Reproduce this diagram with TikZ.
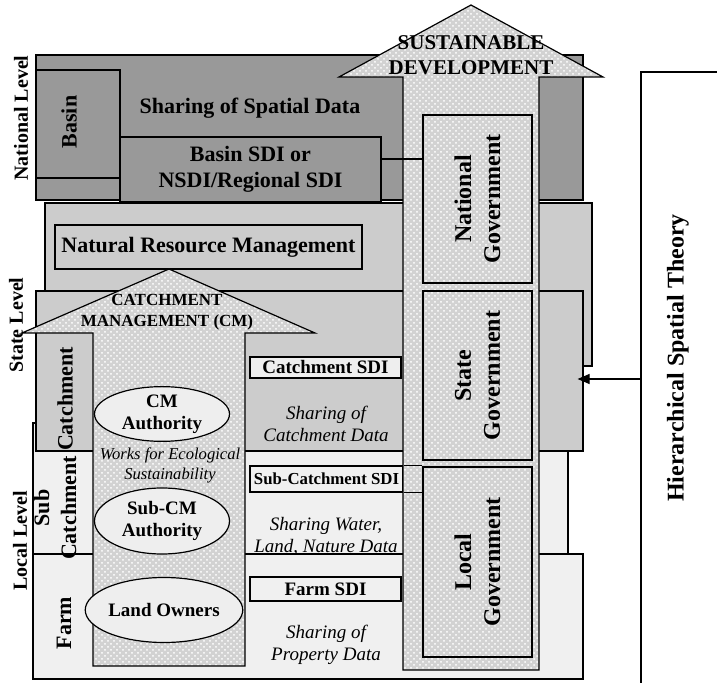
\documentclass[tikz,border=0pt]{standalone}
\usepackage{fontspec}
\setmainfont{Liberation Serif}
\usetikzlibrary{shapes.geometric, arrows.meta, patterns}

\definecolor{natgray}{HTML}{999999}
\definecolor{stgray}{HTML}{CCCCCC}
\definecolor{locgray}{HTML}{F0F0F0}
\definecolor{arrgray}{HTML}{D2D2D2}
\definecolor{ellgray}{HTML}{EEEEEE}

\tikzset{
	layer/.style={draw, fill=#1},
	arrowfill/.style={draw, preaction={fill=arrgray}, pattern=crosshatch dots, pattern color=white},
	govbox/.style={arrowfill, rotate=90, inner sep=0pt, align=center, font=\fontsize{12}{14.5}\selectfont\bfseries},
	sdibox/.style={draw, fill=locgray, inner sep=0pt, font=\fontsize{9.5}{11}\selectfont\bfseries},
	ownerell/.style={draw, ellipse, fill=ellgray, inner sep=0pt, align=center, font=\fontsize{9.5}{11}\selectfont\bfseries},
	lvltext/.style={rotate=90, font=\fontsize{10}{12}\selectfont\bfseries},
	coltext/.style={rotate=90, align=center, font=\fontsize{11}{13.5}\selectfont\bfseries},
	sharetext/.style={align=center, font=\fontsize{9.5}{11}\selectfont\itshape},
}

\begin{document}
\begin{tikzpicture}[x=0.5pt, y=-0.5pt, line width=0.6pt]
		\useasboundingbox (0,0) rectangle (717,683);
		% National level
		\draw[layer=natgray] (36,55) rectangle (583,200);
		\draw[layer=natgray] (36,70) rectangle (120,178);
		\node[draw, fill=natgray, inner sep=0pt, minimum width=130.5pt, minimum height=32.5pt, align=center, font=\fontsize{11}{13}\selectfont\bfseries] (bsdi) at (250.5,169.5) {Basin SDI or\\NSDI/Regional SDI};
		\node[font=\fontsize{11}{13}\selectfont\bfseries] (ssd) at (250,108) {Sharing of Spatial Data};
		\node[coltext] (basin) at (69,122) {Basin};
		
		% Natural resource management level
		\draw[layer=stgray] (45,203) rectangle (592,366);
		\node[draw, fill=stgray, inner sep=0pt, minimum width=153.5pt, minimum height=22pt, font=\fontsize{11}{13}\selectfont\bfseries] (nrm) at (208.5,247) {Natural Resource Management};
		
		% State and local levels
		\draw[layer=locgray] (33,423) rectangle (568,554);
		\node[layer=stgray, inner sep=0pt, minimum width=273.5pt, minimum height=80pt] (state) at (309.5,371) {};
		\draw[layer=locgray] (33,554) rectangle (583,679);
		
		% Catchment management arrow
		\draw[arrowfill] (93,666) -- (93,333) -- (22,333) -- (169,269) -- (315,333) -- (245,333) -- (245,666) -- cycle;
		\node[align=center, font=\fontsize{8.5}{10.5}\selectfont\bfseries] (cmhead) at (167,312) {CATCHMENT\\MANAGEMENT (CM)};
		\node[ownerell, minimum width=67.5pt, minimum height=26pt] (cma) at (162,414) {CM\\Authority};
		\node[sharetext, font=\fontsize{8.3}{10}\selectfont\itshape] (eco) at (170,465) {Works for Ecological\\Sustainability};
		\node[ownerell, minimum width=67.5pt, minimum height=33pt] (subcma) at (162,521) {Sub-CM\\Authority};
		\node[ownerell, minimum width=65pt, minimum height=32.5pt] (owners) at (164,610) {Land Owners};
		
		% Column labels
		\node[coltext] (catch) at (65,399) {Catchment};
		\node[coltext] (subcatch) at (55,508) {Sub\\Catchment};
		\node[coltext] (farm) at (64,623) {Farm};
		
		% SDI boxes and data sharing
		\node[sdibox, fill=ellgray, minimum width=75.5pt, minimum height=10.5pt] (csdi) at (325.5,367.5) {Catchment SDI};
		\node[sharetext] (cdata) at (326,424) {Sharing of\\Catchment Data};
		\node[sdibox, minimum width=76.5pt, minimum height=13pt, font=\fontsize{8.4}{10}\selectfont\bfseries] (scsdi) at (326.5,479) {Sub-Catchment SDI};
		\node[sharetext] (wdata) at (326,536) {Sharing Water,\\Land, Nature Data};
		\node[sdibox, minimum width=75.5pt, minimum height=12pt] (fsdi) at (325.5,589) {Farm SDI};
		\node[sharetext] (pdata) at (326,645) {Sharing of\\Property Data};
		
		% Sustainable development arrow
		\draw[arrowfill] (403,670) -- (403,77) -- (339,77) -- (471,5) -- (603,77) -- (539,77) -- (539,670) -- cycle;
		\node[align=center, font=\fontsize{10.5}{12.5}\selectfont\bfseries] (sdhead) at (471,55) {SUSTAINABLE\\DEVELOPMENT};
		\node[govbox, minimum width=84pt, minimum height=54.5pt] (ngov) at (477.5,199) {National\\Government};
		\node[govbox, minimum width=84.5pt, minimum height=54.5pt] (sgov) at (477.5,375.5) {State\\Government};
		\node[govbox, minimum width=95pt, minimum height=54.5pt] (lgov) at (477.5,562) {Local\\Government};
		
		% Links between SDI boxes and government
		\coordinate (blink) at (400,159);
		\draw (bsdi.east |- blink) -- (ngov.north |- blink);
		\draw (scsdi.north east) -- (lgov.north |- scsdi.north east);
		\draw (scsdi.south east) -- (lgov.north |- scsdi.south east);
		
		% Hierarchical spatial theory
		\draw (717,72) -- (641,72) -- (641,683);
		\node[rotate=90, font=\fontsize{12}{14}\selectfont\bfseries] (hst) at (678,358) {Hierarchical Spatial Theory};
		\coordinate (hstfoot) at (641,379);
		\draw[-{Triangle[length=6pt,width=5pt]}, shorten >=-3pt] (hstfoot) -- (hstfoot -| state.east);
		
		% Level labels
		\node[lvltext] (natlbl) at (21,118) {National Level};
		\node[lvltext] (stlbl) at (16,325) {State Level};
		\node[lvltext] (loclbl) at (20,541) {Local Level};
\end{tikzpicture}
\end{document}
